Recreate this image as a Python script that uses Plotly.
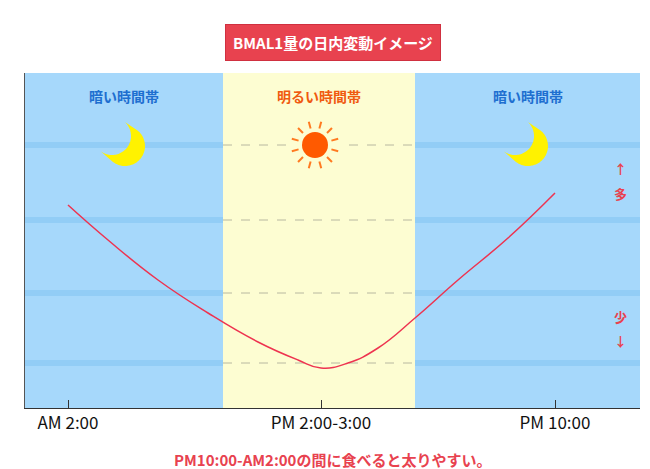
import math
import plotly.graph_objects as go

# x in pixel-like units across the plot, y = BMAL1 level (arbitrary)
curve_x = [43, 83, 133, 183, 233, 273, 296, 323, 353, 390, 433, 483, 530]
curve_y = [203, 168, 128, 95, 66, 48, 40, 45, 60, 90, 128, 170, 215]
tick_pos = [43, 296, 530]
tick_text = ["AM 2:00", "PM 2:00-3:00", "PM 10:00"]
bands = [(0, 198, "dark"), (198, 390, "light"), (390, 615, "dark")]
band_labels = ["暗い時間帯", "明るい時間帯", "暗い時間帯"]
grid_y = [263, 188, 115, 45]

BLUE = "#a6d8fb"
YELLOW = "#fdfdd2"
RED = "#e8424f"
FONT = "Noto Sans CJK JP"

shapes = []
for (x0, x1, kind) in bands:
    shapes.append(dict(type="rect", xref="x", yref="y", x0=x0, x1=x1, y0=0, y1=335,
                       fillcolor=BLUE if kind == "dark" else YELLOW, line_width=0, layer="below"))
    for gy in grid_y:
        if kind == "dark":
            shapes.append(dict(type="line", x0=x0, x1=x1, y0=gy, y1=gy, layer="below",
                               line=dict(color="#92cdf6", width=6)))
        else:
            shapes.append(dict(type="line", x0=x0, x1=x1, y0=gy, y1=gy, layer="below",
                               line=dict(color="#b8b8a0", width=1, dash="dash")))


def crescent(cx, cy, r=20, dx=-13, dy=10):
    pts = []
    for i in range(61):
        a = math.radians(-90 + 180 * i / 60 - 40)
        pts.append((cx + r * math.cos(a), cy + r * math.sin(a)))
    ix, iy = cx + dx, cy + dy
    for i in range(61):
        a = math.radians(90 - 40 - 180 * i / 60 + 180)
        a = math.radians(50 - 180 * i / 60)
        pts.append((ix + r * 0.95 * math.cos(a), iy + r * 0.95 * math.sin(a)))
    return "M " + " L ".join(f"{x:.1f},{y:.1f}" for x, y in pts) + " Z"


for cx in [100, 503]:
    shapes.append(dict(type="path", path=crescent(cx, 262), fillcolor="#fff200", line_width=0))

# sun
shapes.append(dict(type="rect", x0=262, x1=318, y0=260, y1=266, fillcolor=YELLOW, line_width=0))
shapes.append(dict(type="circle", x0=277, x1=303, y0=250, y1=276,
                   fillcolor="#ff5a00", line_width=0))
for i in range(12):
    a = i * math.pi / 6 + math.pi / 12
    shapes.append(dict(type="line", x0=290 + 17 * math.cos(a), y0=263 + 17 * math.sin(a),
                       x1=290 + 24 * math.cos(a), y1=263 + 24 * math.sin(a),
                       line=dict(color="#ff7a20", width=2)))

fig = go.Figure(go.Scatter(x=curve_x, y=curve_y, mode="lines", line_shape="spline",
                           line=dict(color="#ee3350", width=1.5, smoothing=1.3), hoverinfo="skip"))

annotations = [
    dict(text="<b>BMAL1量の日内変動イメージ</b>", xref="paper", yref="paper", x=0.5, y=1.145,
         showarrow=False, font=dict(color="white", size=15, family=FONT),
         bgcolor=RED, bordercolor="#d03040", borderpad=7, borderwidth=1),
    dict(text="<b>PM10:00-AM2:00の間に食べると太りやすい。</b>", xref="paper", yref="paper",
         x=0.5, y=-0.19, showarrow=False, font=dict(color=RED, size=15, family=FONT)),
    dict(text="<b>↑</b>", x=595, y=240, showarrow=False, font=dict(color=RED, size=13, family=FONT)),
    dict(text="<b>多</b>", x=595, y=215, showarrow=False, font=dict(color=RED, size=13, family=FONT)),
    dict(text="<b>少</b>", x=595, y=92, showarrow=False, font=dict(color=RED, size=13, family=FONT)),
    dict(text="<b>↓</b>", x=595, y=68, showarrow=False, font=dict(color=RED, size=13, family=FONT)),
]
for (x0, x1, kind), lab in zip(bands, band_labels):
    annotations.append(dict(text="<b>" + lab + "</b>", x=(x0 + x1) / 2, y=312, showarrow=False,
                            font=dict(color="#1e6fd0" if kind == "dark" else "#f05a10",
                                      size=14, family=FONT)))

fig.update_layout(
    width=650, height=469, margin=dict(l=17, r=18, t=65, b=69, autoexpand=False),
    paper_bgcolor="white", plot_bgcolor=BLUE, showlegend=False,
    shapes=shapes, annotations=annotations,
    xaxis=dict(range=[0, 615], tickvals=tick_pos, ticktext=tick_text, showgrid=False,
               zeroline=False, ticks="inside", ticklen=8, tickcolor="#333",
               showline=True, linecolor="#333",
               tickfont=dict(size=17, color="#111", family=FONT + " Bold, " + FONT)),
    yaxis=dict(range=[0, 335], showticklabels=False, showgrid=False, zeroline=False,
               showline=True, linecolor="#555"),
)
fig.write_html("out.html")
